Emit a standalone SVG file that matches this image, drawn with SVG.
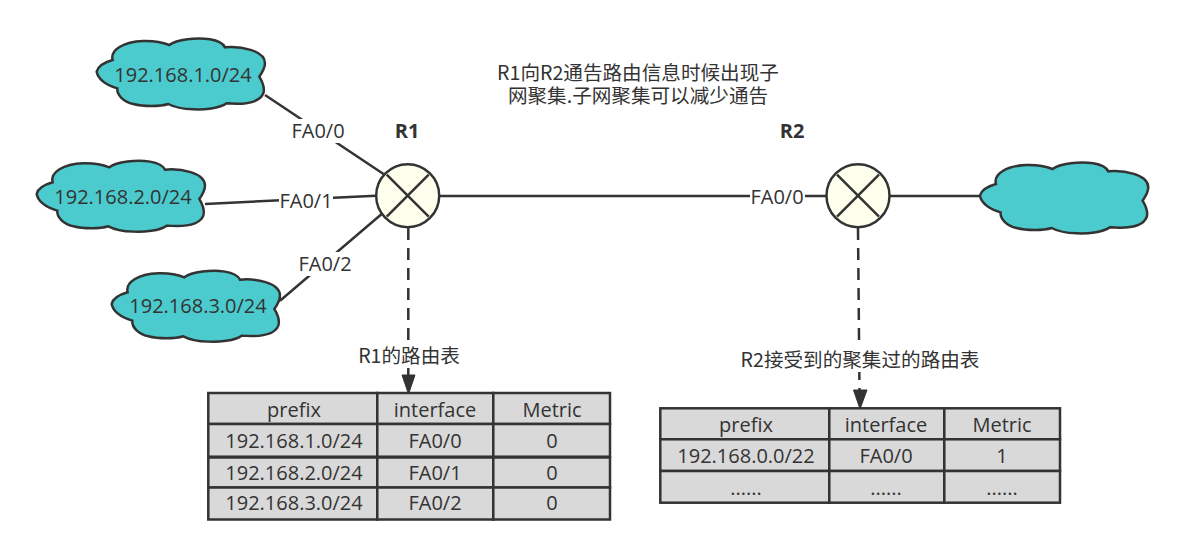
<svg xmlns="http://www.w3.org/2000/svg" xmlns:xlink="http://www.w3.org/1999/xlink" width="1188" height="556" viewBox="0 0 1188 556">
<style>
text{font-family:"Open Sans","Noto Sans CJK SC",sans-serif;font-size:20px;fill:#333;text-anchor:middle;dominant-baseline:central}
text.cn{font-family:"Noto Sans CJK SC",sans-serif;font-size:19.6px}
text.b{font-weight:bold;font-size:20px}
.cloud{fill:#4bcbce;stroke:#333;stroke-width:7.5}
.ln{fill:none;stroke:#333;stroke-width:2.5}
.dash{fill:none;stroke:#333;stroke-width:2.5;stroke-dasharray:12 8}
.bg{fill:#fff}
.cell{fill:#d9d9d9;stroke:#333;stroke-width:2.5}
.rt{fill:#ffffee;stroke:#333;stroke-width:2.5}
.head{fill:#333;stroke:#333}
</style>
<defs>
<path id="c" d="M200 125C205 105 230 95 248 90C240 60 280 35 340 33C370 32 400 38 418 45C440 28 500 22 540 28C565 32 580 42 585 52C630 48 705 60 705 100C705 115 695 130 688 140C700 160 705 175 700 190C690 215 650 225 590 220C570 235 520 240 490 238C460 237 430 230 415 222C390 230 340 230 310 222C280 215 260 195 262 175C230 165 205 150 200 125Z"/>
<g id="x"><circle r="31.5" class="rt"/><path class="ln" d="M-21-21L21 21M-21 21L21-21"/></g>
</defs>
<g id="connectors">
<path class="ln" d="M265 95L385 175"/>
<path class="ln" d="M205 204L376 195.7"/>
<path class="ln" d="M280 300.7L381.7 214"/>
<path class="ln" d="M439 196H826"/>
<path class="ln" d="M889 196H980"/>
<path class="dash" d="M408.3 228V378"/>
<path class="dash" d="M858 228L859.5 392"/>
</g>
<g id="cloud1"><use xlink:href="#c" class="cloud" transform="translate(30 30) scale(.3333)"/><text x="183" y="74">192.168.1.0/24</text></g>
<g id="cloud2"><use xlink:href="#c" class="cloud" transform="translate(-30 152.3) scale(.3333)"/><text x="123" y="196">192.168.2.0/24</text></g>
<g id="cloud3"><use xlink:href="#c" class="cloud" transform="translate(45 262.3) scale(.3333)"/><text x="198" y="305">192.168.3.0/24</text></g>
<g id="cloud4"><use xlink:href="#c" class="cloud" transform="translate(913.3 154) scale(.3333)"/></g>
<g id="r1"><use xlink:href="#x" x="407.7" y="195.7"/><text class="b" x="407" y="130">R1</text></g>
<g id="r2"><use xlink:href="#x" x="858" y="195.7"/><text class="b" x="792" y="130">R2</text></g>
<g id="labels">
<rect class="bg" x="290" y="119" width="56" height="24"/><text x="318" y="130">FA0/0</text>
<rect class="bg" x="279" y="189" width="54" height="24"/><text x="306" y="200">FA0/1</text>
<rect class="bg" x="297" y="252" width="56" height="24"/><text x="325" y="263">FA0/2</text>
<rect class="bg" x="750" y="185" width="55" height="24"/><text x="777" y="196">FA0/0</text>
<rect class="bg" x="356" y="342" width="106" height="26"/><text class="cn" x="409" y="354">R1的路由表</text>
<rect class="bg" x="738" y="346" width="244" height="26"/><text class="cn" x="860" y="358">R2接受到的聚集过的路由表</text>
<text class="cn" x="638" y="71">R1向R2通告路由信息时候出现子<tspan x="638" dy="23">网聚集.子网聚集可以减少通告</tspan></text>
</g>
<g id="table1">
<rect class="cell" x="208.3" y="393" width="169" height="31"/><rect class="cell" x="377.3" y="393" width="116" height="31"/><rect class="cell" x="493.3" y="393" width="116.7" height="31"/>
<rect class="cell" x="208.3" y="424" width="169" height="32.700"/><rect class="cell" x="377.3" y="424" width="116" height="32.700"/><rect class="cell" x="493.3" y="424" width="116.7" height="32.700"/>
<rect class="cell" x="208.3" y="457.500" width="169" height="30"/><rect class="cell" x="377.3" y="457.500" width="116" height="30"/><rect class="cell" x="493.3" y="457.500" width="116.7" height="30"/>
<rect class="cell" x="208.3" y="487.500" width="169" height="32"/><rect class="cell" x="377.3" y="487.500" width="116" height="32"/><rect class="cell" x="493.3" y="487.500" width="116.7" height="32"/>
<text x="294" y="409">prefix</text><text x="435" y="409">interface</text><text x="552" y="409">Metric</text>
<text x="294" y="440">192.168.1.0/24</text><text x="435" y="440">FA0/0</text><text x="552" y="440">0</text>
<text x="294" y="472">192.168.2.0/24</text><text x="435" y="472">FA0/1</text><text x="552" y="472">0</text>
<text x="294" y="502">192.168.3.0/24</text><text x="435" y="502">FA0/2</text><text x="552" y="502">0</text>
</g>
<g id="table2">
<rect class="cell" x="660.300" y="408.300" width="169" height="31"/><rect class="cell" x="829.300" y="408.300" width="115" height="31"/><rect class="cell" x="944.300" y="408.300" width="115.700" height="31"/>
<rect class="cell" x="660.300" y="439.300" width="169" height="31.700"/><rect class="cell" x="829.300" y="439.300" width="115" height="31.700"/><rect class="cell" x="944.300" y="439.300" width="115.700" height="31.700"/>
<rect class="cell" x="660.300" y="471" width="169" height="31.700"/><rect class="cell" x="829.300" y="471" width="115" height="31.700"/><rect class="cell" x="944.300" y="471" width="115.700" height="31.700"/>
<text x="746" y="424">prefix</text><text x="886" y="424">interface</text><text x="1002" y="424">Metric</text>
<text x="746" y="455">192.168.0.0/22</text><text x="886" y="455">FA0/0</text><text x="1002" y="455">1</text>
<text x="746" y="487">......</text><text x="886" y="487">......</text><text x="1002" y="487">......</text>
</g>
<g id="arrowheads">
<path class="head" d="M402 375H415L408.500 394Z"/>
<path class="head" d="M853.500 390H867L860 409Z"/>
</g>
</svg>
